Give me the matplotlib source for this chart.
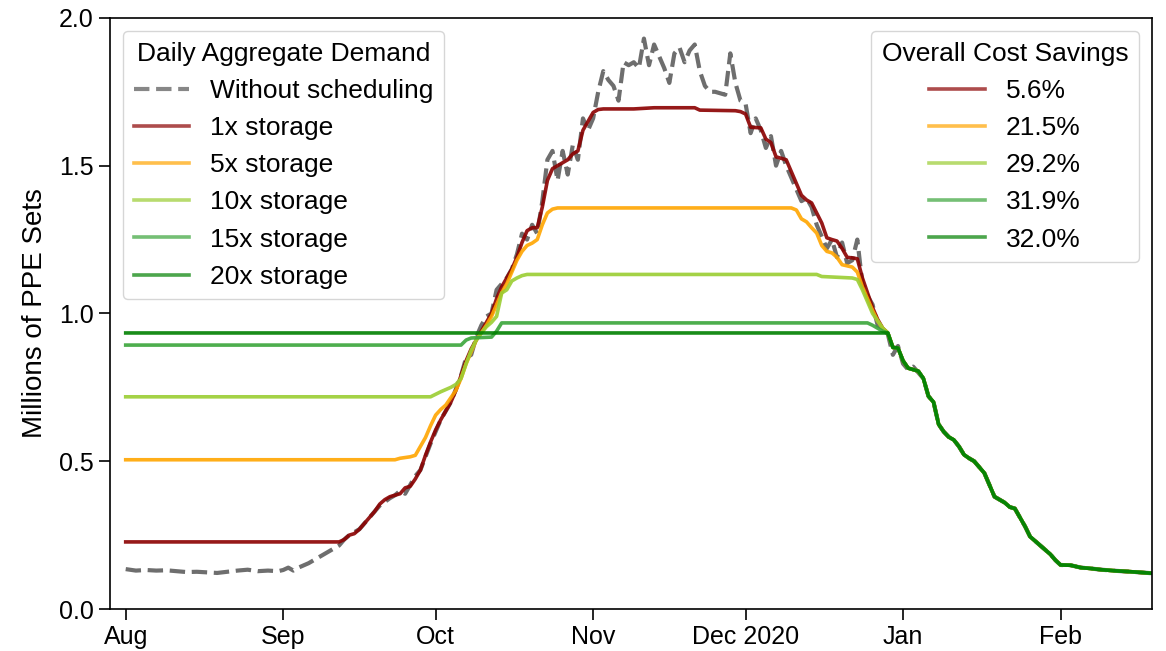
# Daily aggregate PPE demand with and without scheduling, for several storage sizes
import pandas as pd
import matplotlib
matplotlib.use("Agg")
import matplotlib.pyplot as plt

plt.rcParams['font.family'] = ['Liberation Sans', 'DejaVu Sans']
plt.rcParams['font.size'] = 18

inicio = pd.Timestamp("2020-08-01")  # day 0

# shared tail after all schedules merge back with the demand (day, millions)
dias_cola = [151, 152, 153, 154, 155, 156, 157, 158, 159, 160, 161, 162, 163, 164, 165,
             166, 167, 168, 169, 170, 171, 172, 173, 174, 175, 176, 177, 178, 179, 180,
             181, 182, 183, 184, 186, 188, 190, 192, 195, 198, 202]
valores_cola = [0.885, 0.883, 0.84, 0.815, 0.81, 0.805, 0.78, 0.72, 0.70, 0.625, 0.60, 0.582,
                0.572, 0.55, 0.522, 0.51, 0.50, 0.48, 0.46, 0.42, 0.38, 0.37, 0.36, 0.345,
                0.34, 0.31, 0.28, 0.245, 0.23, 0.215, 0.20, 0.185, 0.165, 0.149, 0.148,
                0.14, 0.137, 0.133, 0.129, 0.126, 0.121]

# without scheduling (dashed)
dias_sin = [0, 2, 4, 6, 8, 10, 12, 14, 16, 18, 20, 22, 24, 26, 28, 30, 31, 32, 33, 34, 36,
            38, 40, 41, 42, 43, 44, 46, 48, 50, 52, 53, 54, 55, 56, 57, 58, 60, 62, 64, 66,
            67, 68, 69, 70, 71, 72, 73, 74, 75, 76, 77, 78, 79, 80, 81, 82, 83, 84, 85, 86,
            87, 88, 89, 90, 91, 92, 93, 94, 95, 96, 97, 98, 99, 100, 101, 102, 103, 104,
            105, 106, 107, 108, 109, 110, 111, 112, 113, 114, 115, 116, 117, 118, 119, 120,
            121, 122, 123, 124, 125, 126, 127, 128, 129, 130, 131, 132, 133, 134, 135, 136,
            137, 138, 139, 140, 141, 142, 143, 144, 145, 146, 147, 148, 149, 150, 151, 152,
            153, 154, 155, 156, 157, 158, 159]
valores_sin = [0.135, 0.13, 0.132, 0.13, 0.131, 0.128, 0.125, 0.126, 0.124, 0.122, 0.126,
               0.13, 0.133, 0.128, 0.13, 0.128, 0.132, 0.14, 0.13, 0.14, 0.155, 0.175, 0.195,
               0.205, 0.215, 0.235, 0.25, 0.27, 0.31, 0.35, 0.375, 0.385, 0.40, 0.39, 0.42,
               0.45, 0.47, 0.56, 0.64, 0.70, 0.79, 0.85, 0.86, 0.92, 0.96, 0.99, 1.0, 1.08,
               1.10, 1.12, 1.15, 1.2, 1.27, 1.25, 1.30, 1.27, 1.38, 1.52, 1.55, 1.45, 1.55,
               1.47, 1.57, 1.52, 1.66, 1.62, 1.66, 1.75, 1.82, 1.79, 1.77, 1.72, 1.85, 1.84,
               1.85, 1.83, 1.93, 1.84, 1.91, 1.87, 1.83, 1.78, 1.88, 1.90, 1.85, 1.89, 1.91,
               1.82, 1.77, 1.75, 1.75, 1.745, 1.74, 1.88, 1.78, 1.72, 1.71, 1.61, 1.66, 1.62,
               1.56, 1.60, 1.50, 1.55, 1.50, 1.46, 1.42, 1.38, 1.39, 1.36, 1.30, 1.26, 1.22,
               1.25, 1.19, 1.24, 1.17, 1.18, 1.25, 1.10, 1.06, 1.03, 0.96, 0.95, 0.93, 0.86,
               0.89, 0.83, 0.81, 0.82, 0.80, 0.78, 0.72, 0.70]

# 1x storage
dias_1x = [0, 42, 43, 44, 45, 46, 47, 48, 49, 50, 51, 52, 53, 54, 55, 56, 57, 58, 59, 60,
           61, 62, 63, 64, 65, 66, 67, 68, 69, 70, 71, 72, 73, 74, 75, 76, 77, 78, 79, 80,
           81, 82, 83, 84, 85, 86, 87, 88, 89, 90, 91, 92, 93, 94, 100, 104, 112, 113, 120,
           121, 122, 123, 125, 126, 127, 128, 130, 131, 132, 133, 134, 135, 136, 137, 138,
           139, 140, 141, 142, 143, 144, 145, 146, 147, 148, 149, 150]
valores_1x = [0.227, 0.227, 0.235, 0.25, 0.255, 0.27, 0.29, 0.31, 0.33, 0.355, 0.37, 0.38,
              0.385, 0.39, 0.41, 0.415, 0.44, 0.47, 0.52, 0.565, 0.606, 0.64, 0.67, 0.70,
              0.74, 0.79, 0.84, 0.88, 0.91, 0.94, 0.97, 1.0, 1.05, 1.09, 1.12, 1.15, 1.19,
              1.24, 1.28, 1.29, 1.29, 1.36, 1.45, 1.49, 1.50, 1.51, 1.52, 1.54, 1.55, 1.62,
              1.65, 1.68, 1.69, 1.692, 1.692, 1.696, 1.696, 1.688, 1.686, 1.683, 1.675, 1.63,
              1.628, 1.59, 1.578, 1.53, 1.52, 1.48, 1.44, 1.40, 1.384, 1.374, 1.34, 1.306,
              1.256, 1.25, 1.245, 1.22, 1.19, 1.188, 1.185, 1.12, 1.07, 1.02, 0.98, 0.95, 0.934]

# 5x storage
dias_5x = [0, 53, 54, 56, 57, 58, 59, 60, 61, 62, 63, 64, 65, 66, 67, 68, 69, 70, 71, 72,
           73, 74, 75, 76, 77, 78, 79, 80, 81, 82, 83, 84, 85, 131, 132, 133, 134, 135, 136,
           137, 138, 139, 140, 141, 143, 144, 145, 146, 147, 148, 149, 150]
valores_5x = [0.505, 0.505, 0.51, 0.515, 0.52, 0.55, 0.58, 0.62, 0.656, 0.675, 0.69, 0.715,
              0.74, 0.78, 0.83, 0.87, 0.91, 0.935, 0.96, 0.99, 1.03, 1.07, 1.10, 1.14, 1.18,
              1.21, 1.23, 1.238, 1.25, 1.30, 1.34, 1.353, 1.357, 1.357, 1.35, 1.32, 1.31,
              1.29, 1.272, 1.23, 1.21, 1.205, 1.19, 1.165, 1.157, 1.14, 1.09, 1.05, 1.01,
              0.975, 0.95, 0.934]

# 10x storage
dias_10x = [0, 60, 62, 64, 65, 66, 67, 68, 69, 70, 71, 72, 73, 74, 75, 76, 77, 78, 79, 136,
            137, 143, 144, 145, 146, 147, 148, 149, 150]
valores_10x = [0.718, 0.718, 0.735, 0.75, 0.76, 0.78, 0.83, 0.876, 0.91, 0.934, 0.955, 0.97,
               0.99, 1.069, 1.08, 1.11, 1.12, 1.128, 1.132, 1.132, 1.125, 1.12, 1.115, 1.08,
               1.04, 1.0, 0.975, 0.95, 0.934]

# 15x storage
dias_15x = [0, 66, 67, 68, 72, 73, 74, 146, 147, 148, 149, 150]
valores_15x = [0.893, 0.893, 0.91, 0.917, 0.92, 0.94, 0.968, 0.968, 0.96, 0.95, 0.94, 0.934]

# 20x storage
dias_20x = [0, 149, 150]
valores_20x = [0.934, 0.934, 0.934]

etiquetas = ["1x storage", "5x storage", "10x storage", "15x storage", "20x storage"]
ahorros = ["5.6%", "21.5%", "29.2%", "31.9%", "32.0%"]
colores = ["#8b0000", "#ffa500", "#9acd32", "#3aa53a", "#008000"]

meses = ["Aug", "Sep", "Oct", "Nov", "Dec 2020", "Jan", "Feb"]
dias_meses = [0, 31, 61, 92, 122, 153, 184]


def fechas(dias):
    return inicio + pd.to_timedelta(dias, unit="D")


fig = plt.figure(figsize=(11.66, 6.51), dpi=100)
ax = fig.add_axes([0.0943, 0.0645, 0.8937, 0.908])

l_sin, = ax.plot(fechas(dias_sin + dias_cola[9:]), valores_sin + valores_cola[9:],
                 color="#555555", ls="--", lw=3, alpha=0.85)

series = [(dias_1x, valores_1x), (dias_5x, valores_5x), (dias_10x, valores_10x),
          (dias_15x, valores_15x), (dias_20x, valores_20x)]
lineas = []
for (d, v), c in zip(series, colores):
    l, = ax.plot(fechas(d + dias_cola), v + valores_cola, color=c, lw=2.6, alpha=0.9)
    lineas.append(l)

ax.set_ylim(0, 2.0)
ax.set_yticks([0, 0.5, 1.0, 1.5, 2.0])
ax.set_xlim(fechas([-3.1])[0], fechas([202])[0])
ax.set_xticks(fechas(dias_meses))
ax.set_xticklabels(meses)
ax.tick_params(length=8, width=1.2, labelsize=18)
for s in ax.spines.values():
    s.set_linewidth(1.2)
ax.set_ylabel("Millions of PPE Sets", fontsize=20, labelpad=8)

ley1 = ax.legend([l_sin] + lineas, ["Without scheduling"] + etiquetas,
                 title="Daily Aggregate Demand", loc="upper left",
                 fontsize=19, title_fontsize=19, handlelength=2.1)
for h in ley1.legend_handles:
    h.set_alpha(0.7)
ax.add_artist(ley1)
ley2 = ax.legend(lineas, ahorros, title="Overall Cost Savings", loc="upper right",
                 fontsize=19, title_fontsize=19, handlelength=2.1)
for h in ley2.legend_handles:
    h.set_alpha(0.7)

fig.savefig("out.png", dpi=100)
